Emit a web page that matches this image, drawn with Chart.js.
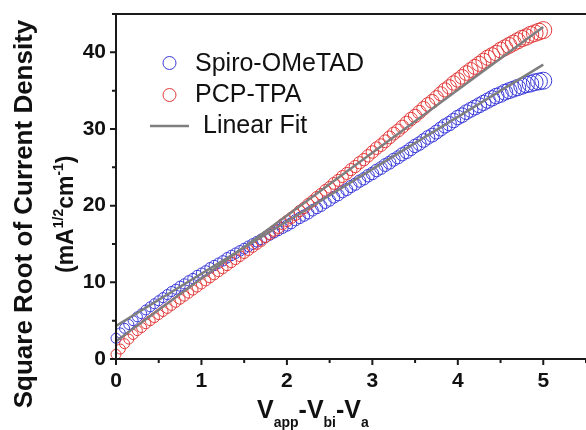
<!DOCTYPE html>
<html lang="en">
<head>
<meta charset="UTF-8">
<title>Square Root of Current Density</title>
<script src="https://cdn.jsdelivr.net/npm/chart.js"></script>
<style>
  body { margin: 0; background: #fff; }
  #wrap { width: 586px; height: 430px; position: relative; }
</style>
</head>
<body>
<div id="wrap"><canvas id="sclcChart"></canvas></div>
<script>
// x axis: Vapp - Vbi - Va (V)
const voltage = [
  0, 0.05, 0.1, 0.15, 0.2, 0.25, 0.3, 0.35, 0.4, 0.45,
  0.5, 0.55, 0.6, 0.65, 0.7, 0.75, 0.8, 0.85, 0.9, 0.95,
  1, 1.05, 1.1, 1.15, 1.2, 1.25, 1.3, 1.35, 1.4, 1.45,
  1.5, 1.55, 1.6, 1.65, 1.7, 1.75, 1.8, 1.85, 1.9, 1.95,
  2, 2.05, 2.1, 2.15, 2.2, 2.25, 2.3, 2.35, 2.4, 2.45,
  2.5, 2.55, 2.6, 2.65, 2.7, 2.75, 2.8, 2.85, 2.9, 2.95,
  3, 3.05, 3.1, 3.15, 3.2, 3.25, 3.3, 3.35, 3.4, 3.45,
  3.5, 3.55, 3.6, 3.65, 3.7, 3.75, 3.8, 3.85, 3.9, 3.95,
  4, 4.05, 4.1, 4.15, 4.2, 4.25, 4.3, 4.35, 4.4, 4.45,
  4.5, 4.55, 4.6, 4.65, 4.7, 4.75, 4.8, 4.85, 4.9, 4.95,
  5
];

// sqrt(J) for Spiro-OMeTAD
const spiroRoot = [
  2.7, 3.4, 4.0, 4.5, 5.0, 5.5, 5.9, 6.4, 6.8, 7.2,
  7.6, 8.0, 8.4, 8.8, 9.1, 9.5, 9.8, 10.2, 10.5, 10.9,
  11.2, 11.5, 11.9, 12.2, 12.5, 12.8, 13.2, 13.5, 13.8, 14.1,
  14.4, 14.7, 15.0, 15.3, 15.6, 15.9, 16.2, 16.5, 16.8, 17.1,
  17.4, 17.7, 18.1, 18.4, 18.7, 19.0, 19.4, 19.7, 20.0, 20.4,
  20.7, 21.1, 21.4, 21.8, 22.1, 22.5, 22.8, 23.2, 23.5, 23.9,
  24.2, 24.6, 24.9, 25.3, 25.6, 26.0, 26.3, 26.7, 27.0, 27.4,
  27.8, 28.1, 28.5, 28.9, 29.2, 29.6, 30.0, 30.4, 30.7, 31.1,
  31.5, 31.8, 32.2, 32.5, 32.8, 33.1, 33.4, 33.7, 34.0, 34.3,
  34.5, 34.8, 35.0, 35.2, 35.4, 35.6, 35.8, 35.9, 36.1, 36.2,
  36.3
];

// sqrt(J) for PCP-TPA
const pcpRoot = [
  0.6, 1.3, 2.0, 2.6, 3.2, 3.7, 4.1, 4.6, 5.0, 5.4,
  5.8, 6.2, 6.6, 7.0, 7.4, 7.8, 8.2, 8.6, 9.0, 9.4,
  9.8, 10.2, 10.6, 11.0, 11.4, 11.8, 12.2, 12.6, 13.0, 13.4,
  13.8, 14.2, 14.6, 15.0, 15.4, 15.9, 16.3, 16.7, 17.1, 17.6,
  18.0, 18.4, 18.8, 19.3, 19.7, 20.2, 20.6, 21.1, 21.5, 22.0,
  22.4, 22.9, 23.3, 23.8, 24.2, 24.7, 25.1, 25.6, 26.0, 26.5,
  27.0, 27.5, 27.9, 28.4, 28.9, 29.4, 29.8, 30.3, 30.8, 31.3,
  31.7, 32.2, 32.7, 33.2, 33.6, 34.1, 34.6, 35.1, 35.5, 36.0,
  36.4, 36.8, 37.3, 37.7, 38.1, 38.5, 38.9, 39.3, 39.6, 39.9,
  40.3, 40.6, 40.9, 41.2, 41.5, 41.8, 42.0, 42.3, 42.5, 42.7,
  42.9
];

// linear fits (end points)
const fitX = [0, 5];
const spiroFit = [4.3, 38.4];
const pcpFit = [2.3, 43.3];

const xTicks = [0, 1, 2, 3, 4, 5];
const xMinor = [0.5, 1.5, 2.5, 3.5, 4.5, 5.5];
const yTicks = [0, 10, 20, 30, 40];
const yMinor = [5, 15, 25, 35, 45];

const seriesNames = ['Spiro-OMeTAD', 'PCP-TPA', 'Linear Fit'];

const BLUE = '#3a3ad8';
const RED = '#e23a3a';
const GREY = '#7f7f7f';
const INK = '#111';
const FONT = "'Liberation Sans', Arial, sans-serif";

function toPoints(xs, ys) {
    return xs.map((v, i) => ({ x: v, y: ys[i] }));
}

// circles get a bit bigger toward the high-voltage end, like the original
const growRadius = c => 5 + 3.5 * Math.pow(c.dataIndex / (voltage.length - 1), 2);

// axes frame, ticks, legend and titles
const decor = {
    id: 'decor',
    afterDraw(chart) {
        const { ctx, chartArea: a, scales: { x, y } } = chart;
        ctx.save();
        ctx.strokeStyle = '#1a1a1a';
        ctx.lineWidth = 2;
        ctx.beginPath();
        ctx.moveTo(a.left, a.top); ctx.lineTo(a.right, a.top);
        ctx.moveTo(a.left, a.top - 1); ctx.lineTo(a.left, a.bottom + 1);
        ctx.moveTo(a.left - 1, a.bottom); ctx.lineTo(a.right, a.bottom);
        xTicks.forEach(v => { const p = x.getPixelForValue(v); ctx.moveTo(p, a.bottom); ctx.lineTo(p, a.bottom + 6); });
        xMinor.forEach(v => { const p = x.getPixelForValue(v); ctx.moveTo(p, a.bottom); ctx.lineTo(p, a.bottom + 4); });
        yTicks.forEach(v => { const p = y.getPixelForValue(v); ctx.moveTo(a.left, p); ctx.lineTo(a.left - 6, p); });
        yMinor.forEach(v => { const p = y.getPixelForValue(v); ctx.moveTo(a.left, p); ctx.lineTo(a.left - 4, p); });
        ctx.stroke();

        // legend
        ctx.lineWidth = 1;
        ctx.strokeStyle = BLUE;
        ctx.beginPath(); ctx.arc(169.5, 63, 6.5, 0, Math.PI * 2); ctx.stroke();
        ctx.strokeStyle = RED;
        ctx.beginPath(); ctx.arc(169.5, 95, 6.5, 0, Math.PI * 2); ctx.stroke();
        ctx.strokeStyle = GREY;
        ctx.lineWidth = 2.5;
        ctx.beginPath(); ctx.moveTo(150, 126); ctx.lineTo(189, 126); ctx.stroke();
        ctx.fillStyle = INK;
        ctx.font = '25px ' + FONT;
        ctx.textBaseline = 'alphabetic';
        ctx.fillText(seriesNames[0], 195, 71);
        ctx.fillText(seriesNames[1], 195, 102);
        ctx.fillText(seriesNames[2], 203, 133);

        // x title with subscripts
        const parts = [['V', 0], ['app', 1], ['-V', 0], ['bi', 1], ['-V', 0], ['a', 1]];
        let cx = 257;
        parts.forEach(([t, sub]) => {
            ctx.font = (sub ? 'bold 14px ' : 'bold 25px ') + FONT;
            ctx.fillText(t, cx, sub ? 427 : 418);
            cx += ctx.measureText(t).width;
        });

        // y title, rotated
        ctx.save();
        ctx.translate(32, 214);
        ctx.rotate(-Math.PI / 2);
        ctx.textAlign = 'center';
        ctx.font = 'bold 26px ' + FONT;
        ctx.fillText('Square Root of Current Density', 0, 0);
        ctx.restore();

        ctx.save();
        ctx.translate(73, 273);
        ctx.rotate(-Math.PI / 2);
        const unit = [['(mA', 0], ['1/2', 1], ['cm', 0], ['-1', 1], [')', 0]];
        let ux = 0;
        unit.forEach(([t, sup]) => {
            ctx.font = (sup ? 'bold 14px ' : 'bold 23px ') + FONT;
            ctx.fillText(t, ux, sup ? -10 : 0);
            ux += ctx.measureText(t).width;
        });
        ctx.restore();
        ctx.restore();
    }
};

const tickFont = { family: FONT, size: 21, weight: 'bold' };

new Chart(document.getElementById('sclcChart'), {
    type: 'scatter',
    data: {
        datasets: [
            {
                label: seriesNames[2] + ' PCP',
                data: toPoints(fitX, pcpFit),
                showLine: true,
                borderColor: GREY,
                borderWidth: 2.5,
                pointRadius: 0,
                order: 0
            },
            {
                label: seriesNames[2] + ' Spiro',
                data: toPoints(fitX, spiroFit),
                showLine: true,
                borderColor: GREY,
                borderWidth: 2.5,
                pointRadius: 0,
                order: 1
            },
            {
                label: seriesNames[1],
                data: toPoints(voltage, pcpRoot),
                pointStyle: 'circle',
                pointRadius: growRadius,
                pointBorderWidth: 1,
                borderColor: RED,
                backgroundColor: 'rgba(0,0,0,0)',
                clip: false,
                order: 2
            },
            {
                label: seriesNames[0],
                data: toPoints(voltage, spiroRoot),
                pointStyle: 'circle',
                pointRadius: growRadius,
                pointBorderWidth: 1,
                borderColor: BLUE,
                backgroundColor: 'rgba(0,0,0,0)',
                clip: false,
                order: 3
            }
        ]
    },
    options: {
        responsive: true,
        maintainAspectRatio: false,
        animation: false,
        events: [],
        layout: { autoPadding: false, padding: { top: 14, right: 0, left: 0, bottom: 0 } },
        plugins: {
            legend: { display: false },
            tooltip: { enabled: false }
        },
        scales: {
            x: {
                type: 'linear',
                min: 0,
                max: 5.5,
                afterBuildTicks: s => { s.ticks = xTicks.map(v => ({ value: v })); },
                afterFit: s => { s.height = 71; s.paddingLeft = 0; s.paddingRight = 0; },
                grid: { display: false, drawTicks: false, tickLength: 0 },
                border: { display: false },
                ticks: { font: tickFont, color: INK, padding: 10, maxRotation: 0 }
            },
            y: {
                type: 'linear',
                min: 0,
                max: 45,
                afterBuildTicks: s => { s.ticks = yTicks.map(v => ({ value: v })); },
                afterFit: s => { s.width = 116; s.paddingTop = 0; s.paddingBottom = 0; },
                grid: { display: false, drawTicks: false, tickLength: 0 },
                border: { display: false },
                ticks: { font: tickFont, color: INK, padding: 10 }
            }
        }
    },
    plugins: [decor]
});
</script>
</body>
</html>
